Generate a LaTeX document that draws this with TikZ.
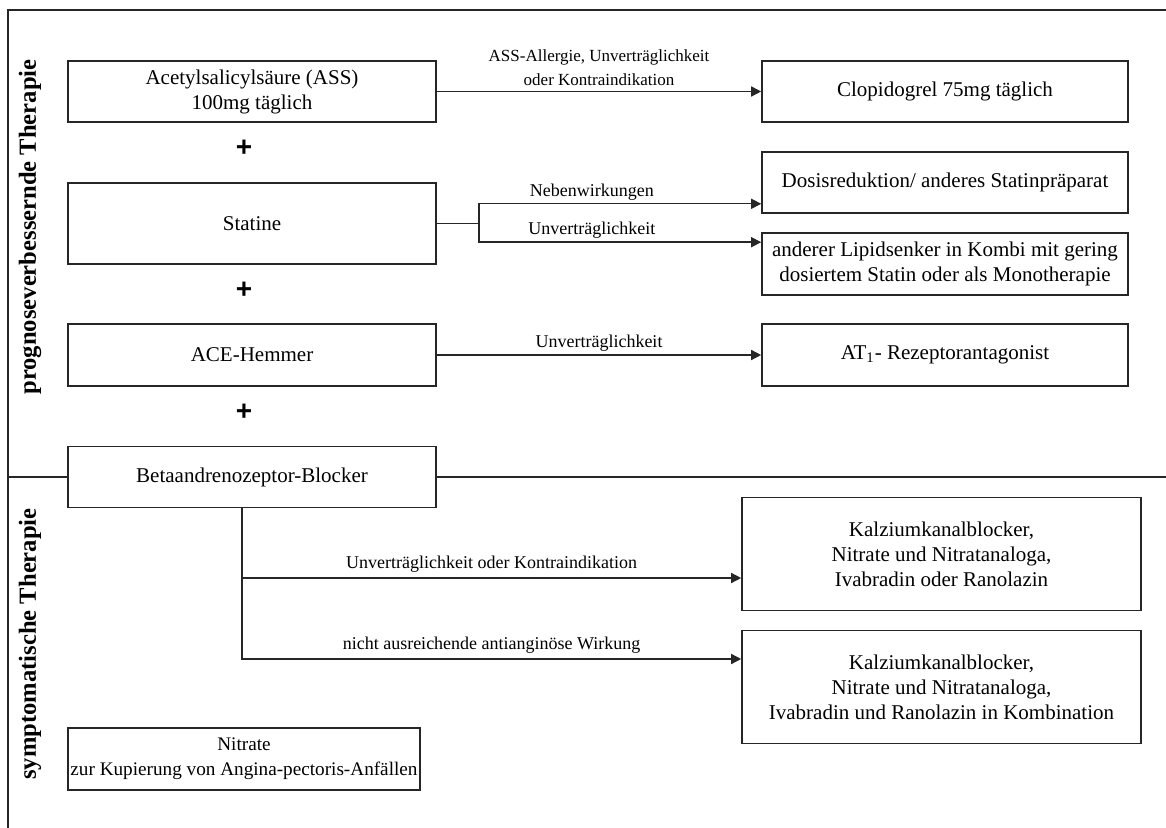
\documentclass[tikz,border=0pt]{standalone}
\usepackage{fontspec}
\setmainfont{Liberation Serif}
\setsansfont{Liberation Sans}
\usetikzlibrary{arrows.meta}

\tikzset{
  box/.style={draw=black!85, line width=0.8pt, align=center, inner sep=1pt,
    font=\fontsize{10.5}{12.5}\selectfont},
  lbl/.style={font=\fontsize{9}{12}\selectfont, inner sep=1.5pt, align=center},
  conn/.style={draw=black!85, line width=0.7pt},
  arr/.style={conn, -{Triangle[length=5pt,width=5pt]}},
  side/.style={rotate=90, font=\fontsize{12.3}{14}\selectfont\bfseries},
  plus/.style={font=\fontsize{14}{14}\sffamily\bfseries},
}

\begin{document}
\begin{tikzpicture}[x=0.5pt, y=-0.5pt]
    \useasboundingbox (0,0) rectangle (1166,828);

    % Frame
    \draw[conn] (1166,10) -- (8,10) -- (8,828);

    % Side titles
    \node[side] (prog) at (30,227) {prognoseverbessernde Therapie};
    \node[side] (sympt) at (30,644) {symptomatische Therapie};

    % Left column
    \node[box, minimum width=184pt, minimum height=30.5pt] (ass) at (252,91.5) {Acetylsalicylsäure (ASS)\\100mg täglich};
    \node[box, minimum width=184pt, minimum height=40.5pt] (statine) at (252,223.5) {Statine};
    \node[box, minimum width=184pt, minimum height=31pt] (ace) at (252,355) {ACE-Hemmer};
    \node[box, minimum width=184pt, minimum height=30.5pt] (beta) at (252,477) {Betaandrenozeptor-Blocker};
    \node[box, minimum width=176pt, minimum height=31pt, inner xsep=0.5pt, font=\fontsize{9.6}{12.5}\selectfont] (nitrat) at (244,759) {Nitrate\\zur Kupierung von Angina-pectoris-Anfällen};

    \foreach \y in {148,290,412} {
      \node[plus] (plus\y) at (244,\y) {+};
    }

    % Right column
    \node[box, minimum width=183pt, minimum height=30.5pt] (clopi) at (945,91.5) {Clopidogrel 75mg täglich};
    \node[box, minimum width=183pt, minimum height=30.5pt] (dosis) at (945,182.5) {Dosisreduktion/ anderes Statinpräparat};
    \node[box, minimum width=183pt, minimum height=31pt, inner sep=0.5pt] (lipid) at (945,264) {anderer Lipidsenker in Kombi mit gering\\dosiertem Statin oder als Monotherapie};
    \node[box, minimum width=183pt, minimum height=31pt] (at) at (945,355) {AT\textsubscript{1}- Rezeptorantagonist};
    \node[box, minimum width=199.5pt, minimum height=56.5pt] (kalz1) at (941.5,554) {Kalziumkanalblocker,\\Nitrate und Nitratanaloga,\\Ivabradin oder Ranolazin};
    \node[box, minimum width=199.5pt, minimum height=56.5pt] (kalz2) at (941.5,687) {Kalziumkanalblocker,\\Nitrate und Nitratanaloga,\\Ivabradin und Ranolazin in Kombination};

    % Separator between both parts
    \draw[conn] (8,477) -- (beta.west);
    \draw[conn] (beta.east) -- (1166,477);

    % Alternatives
    \draw[arr] (ass.east) -- node[lbl, above=1pt, font=\fontsize{8.5}{12}\selectfont] {ASS-Allergie, Unverträglichkeit\\oder Kontraindikation} (clopi.west);

    \coordinate (sfork) at ([xshift=21pt]statine.east);
    \draw[conn] (statine.east) -- (sfork);
    \draw[arr] (sfork) |- node[lbl, above, pos=0.7] {Nebenwirkungen} ([yshift=5pt]dosis.south west);
    \draw[arr] (sfork) |- node[lbl, above, pos=0.7] {Unverträglichkeit} ([yshift=-5pt]lipid.north west);

    \draw[arr] (ace.east) -- node[lbl, above] {Unverträglichkeit} (at.west);

    \draw[arr] ([xshift=-5pt]beta.south) |- node[lbl, above=1pt, pos=0.75] {Unverträglichkeit oder Kontraindikation} ([yshift=-12pt]kalz1.west);
    \draw[arr] ([xshift=-5pt]beta.south) |- node[lbl, above=1pt, pos=0.75] {nicht ausreichende antianginöse Wirkung} ([yshift=14pt]kalz2.west);
\end{tikzpicture}
\end{document}
